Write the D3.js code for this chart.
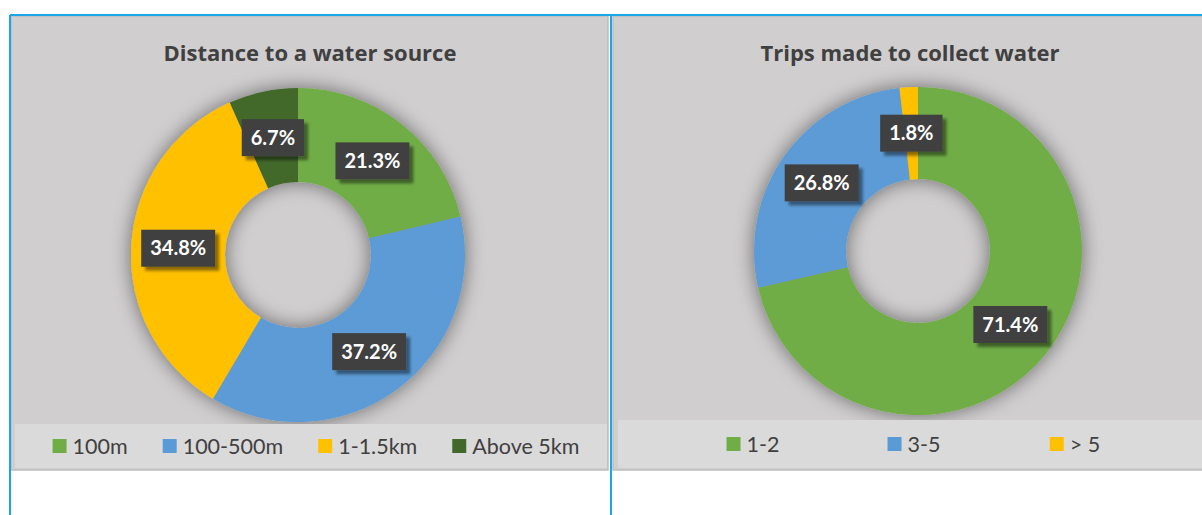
<!DOCTYPE html>
<html>
<head>
<meta charset="utf-8">
<script src="https://cdn.jsdelivr.net/npm/d3@7"></script>
<style>
  html, body { margin: 0; padding: 0; background: #ffffff; }
  svg { display: block; font-family: Lato, "Open Sans", sans-serif; }
</style>
</head>
<body>
<svg id="chart" width="1202" height="515"></svg>
<script>
// Distance to a water source
const distTitle = "Distance to a water source";
const distCategories = ["100m", "100-500m", "1-1.5km", "Above 5km"];
const distValues = [21.3, 37.2, 34.8, 6.7];
const distColors = ["#70AD47", "#5B9BD5", "#FFC000", "#43682B"];

// Trips made to collect water
const tripTitle = "Trips made to collect water";
const tripCategories = ["1-2", "3-5", "> 5"];
const tripValues = [71.4, 26.8, 1.8];
const tripColors = ["#70AD47", "#5B9BD5", "#FFC000"];

const svg = d3.select("#chart");
const defs = svg.append("defs");

// blurred shadow behind a shape
function shadowFilter(id, blur, dx, dy, opacity) {
  const f = defs.append("filter").attr("id", id)
    .attr("x", "-40%").attr("y", "-40%").attr("width", "180%").attr("height", "180%");
  f.append("feGaussianBlur").attr("in", "SourceAlpha").attr("stdDeviation", blur).attr("result", "blur");
  f.append("feOffset").attr("in", "blur").attr("dx", dx).attr("dy", dy).attr("result", "off");
  const ct = f.append("feComponentTransfer").attr("in", "off").attr("result", "shadow");
  ct.append("feFuncA").attr("type", "linear").attr("slope", opacity);
  const m = f.append("feMerge");
  m.append("feMergeNode").attr("in", "shadow");
  m.append("feMergeNode").attr("in", "SourceGraphic");
}
shadowFilter("ringShadow", 10, 0, 0, 0.5);
shadowFilter("labelShadow", 1.8, 4, 4, 0.45);

const panels = [
  { title: distTitle, cats: distCategories, vals: distValues, colors: distColors,
    x: 11, y: 16, w: 597, h: 454, cx: 298, cy: 255, ro: 167, ri: 73, titleX: 310,
    legend: { x: 15, y: 424, w: 592, h: 44, mode: "packed", gap: 35, shift: 5 } },
  { title: tripTitle, cats: tripCategories, vals: tripValues, colors: tripColors,
    x: 613, y: 16, w: 590, h: 454, cx: 918, cy: 251, ro: 164, ri: 72, titleX: 910,
    legend: { x: 618, y: 420, w: 584, h: 48, mode: "columns", col: 161, shift: 4 } }
];

panels.forEach(p => {
  const g = svg.append("g");

  // panel background
  g.append("rect")
    .attr("x", p.x).attr("y", p.y).attr("width", p.w).attr("height", p.h)
    .attr("fill", "#D0CECF").attr("stroke", "#BEBDBD").attr("stroke-width", 1.5);

  // title
  g.append("text")
    .attr("x", p.titleX).attr("y", 61)
    .attr("text-anchor", "middle")
    .attr("font-family", "'Open Sans', Lato, sans-serif")
    .attr("font-size", 22).attr("font-weight", 700)
    .attr("fill", "#404040")
    .text(p.title);

  // ring
  const pie = d3.pie().sort(null).value(d => d)
    .startAngle(0).endAngle(2 * Math.PI);
  const arcs = pie(p.vals);
  const arc = d3.arc().innerRadius(p.ri).outerRadius(p.ro);
  const ring = g.append("g")
    .attr("transform", `translate(${p.cx},${p.cy})`);
  ring.append("g").attr("filter", "url(#ringShadow)")
    .selectAll("path").data(arcs).join("path")
    .attr("d", arc)
    .attr("fill", (d, i) => p.colors[i]);

  // value labels at the middle of each segment
  const labelArc = d3.arc().innerRadius((p.ri + p.ro) / 2).outerRadius((p.ri + p.ro) / 2);
  const lab = ring.selectAll("g.lab").data(arcs).join("g")
    .attr("class", "lab")
    .attr("transform", d => `translate(${labelArc.centroid(d)})`);
  lab.append("text")
    .attr("text-anchor", "middle").attr("dy", "0.36em")
    .attr("font-size", 20).attr("font-weight", 700)
    .attr("fill", "#FFFFFF")
    .text(d => d.data.toFixed(1) + "%");
  lab.each(function() {
    const t = d3.select(this).select("text");
    const w = t.node().getComputedTextLength() + 18;
    const h = 37;
    d3.select(this).insert("rect", "text")
      .attr("x", -w / 2).attr("y", -h / 2).attr("width", w).attr("height", h)
      .attr("fill", "#404040")
      .attr("filter", "url(#labelShadow)");
  });

  // legend
  const L = p.legend;
  g.append("rect")
    .attr("x", L.x).attr("y", L.y).attr("width", L.w).attr("height", L.h)
    .attr("fill", "#DBDADA");
  const items = g.append("g").selectAll("g").data(p.cats).join("g");
  items.append("rect")
    .attr("x", 0).attr("y", -7).attr("width", 14).attr("height", 14)
    .attr("fill", (d, i) => p.colors[i]);
  items.append("text")
    .attr("x", 20).attr("y", 0).attr("dy", "0.36em")
    .attr("font-size", 21.5).attr("fill", "#404040")
    .text(d => d);
  const widths = [];
  items.each(function() {
    widths.push(20 + d3.select(this).select("text").node().getComputedTextLength());
  });
  const cy = L.y + L.h / 2;
  if (L.mode === "packed") {
    const total = d3.sum(widths) + L.gap * (widths.length - 1);
    let x = L.x + L.w / 2 - total / 2 + L.shift;
    items.attr("transform", (d, i) => {
      const t = `translate(${x},${cy})`;
      x += widths[i] + L.gap;
      return t;
    });
  } else {
    const total = L.col * widths.length;
    const x0 = L.x + L.w / 2 - total / 2 + L.shift;
    items.attr("transform", (d, i) => `translate(${x0 + i * L.col + (L.col - widths[i]) / 2},${cy})`);
  }
});

// frame lines
const frame = svg.append("g").attr("stroke", "#1BA6E6").attr("stroke-width", 2).attr("fill", "none");
frame.append("line").attr("x1", 10).attr("x2", 1202).attr("y1", 15).attr("y2", 15);
frame.append("line").attr("x1", 10).attr("x2", 10).attr("y1", 15).attr("y2", 515);
frame.append("line").attr("x1", 611).attr("x2", 611).attr("y1", 15).attr("y2", 515);
</script>
</body>
</html>
